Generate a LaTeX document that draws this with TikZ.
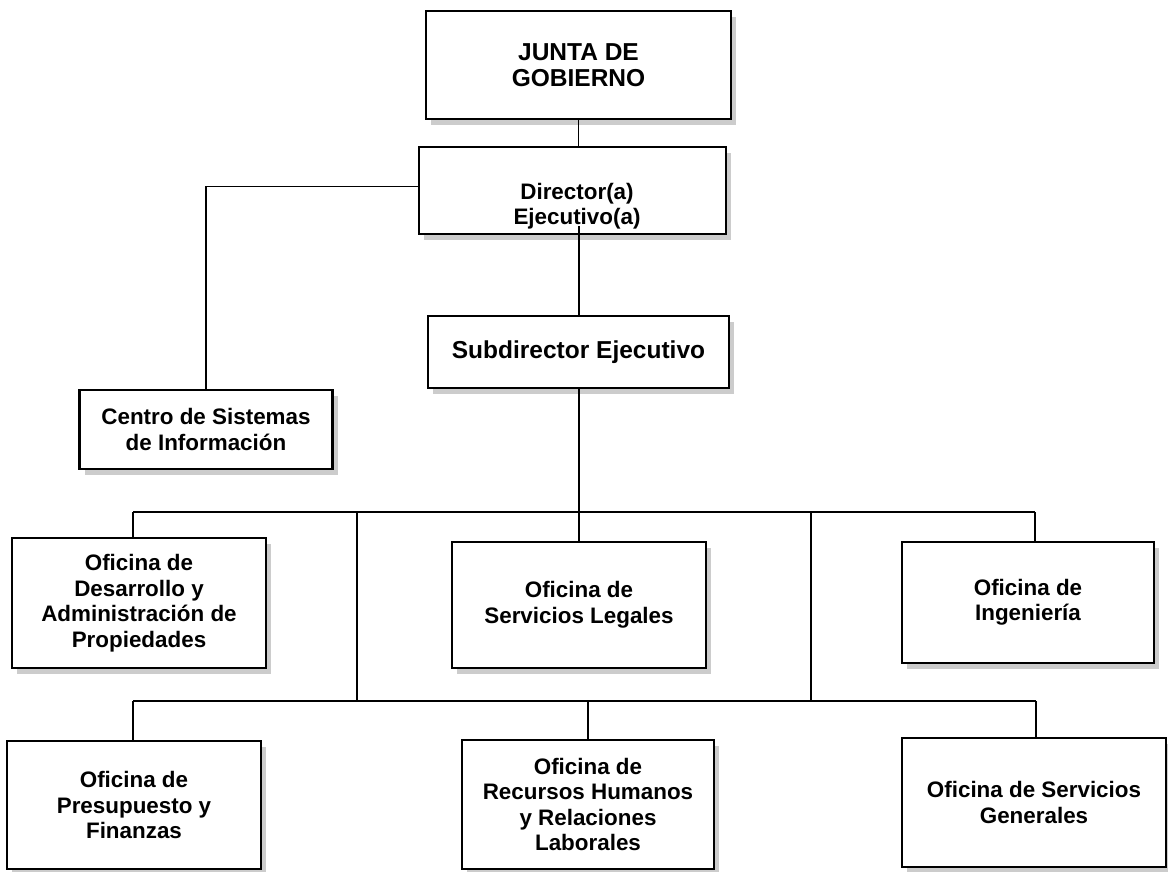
\documentclass[tikz,border=0pt]{standalone}
\usepackage{fontspec}
\setmainfont{Liberation Sans}
\usetikzlibrary{shadows}
\begin{document}
\begin{tikzpicture}[x=1pt,y=-1pt,
  box/.style={draw, line width=2.1pt, fill=white, align=center, inner sep=0pt,
    font=\bfseries\fontsize{22.4}{25.5}\selectfont,
    general shadow={fill=gray!40, shadow xshift=5pt, shadow yshift=-6pt}},
  big/.style={font=\bfseries\fontsize{24.5}{26.5}\selectfont},
  txt/.style={align=center, inner sep=0pt, font=\bfseries\fontsize{22.4}{25.5}\selectfont},
  conn/.style={line width=1.6pt}]
\useasboundingbox (0,0) rectangle (1168,872);

\node[box,big,minimum width=305pt,minimum height=108pt] (junta) at (578.5,65) {JUNTA DE\\GOBIERNO};
\node[box,minimum width=307pt,minimum height=87pt] (dir) at (572.5,190.5) {};
\node[txt] (dirtxt) at (577,206) {Director(a)\\Ejecutivo(a)};
\node[box,big,minimum width=301pt,minimum height=72pt] (sub) at (578.5,352) {Subdirector Ejecutivo};
\node[box,minimum width=253pt,minimum height=79pt] (centro) at (206,429.5) {Centro de Sistemas\\de Información};
\node[box,minimum width=254pt,minimum height=130pt] (desa) at (139,603) {Oficina de\\Desarrollo y\\Administración de\\Propiedades};
\node[box,minimum width=254pt,minimum height=126pt] (legal) at (579,605) {Oficina de\\Servicios Legales};
\node[box,minimum width=252pt,minimum height=121pt] (inge) at (1028,602.5) {Oficina de\\Ingeniería};
\node[box,minimum width=254pt,minimum height=128pt] (presu) at (134,805) {Oficina de\\Presupuesto y\\Finanzas};
\node[box,minimum width=252pt,minimum height=129pt] (rrhh) at (588,804.5) {Oficina de\\Recursos Humanos\\y Relaciones\\Laborales};
\node[box,minimum width=264pt,minimum height=129pt] (sgen) at (1034,802.5) {Oficina de Servicios\\Generales};

\coordinate (u1) at (133,512);
\coordinate (u2) at (1035,512);
\coordinate (l1) at (133,701);
\coordinate (l2) at (1036,701);
\coordinate (s1) at (357,512);
\coordinate (s2) at (811,512);
\coordinate (dstart) at (579,226);

\draw[conn] (junta.south) -- (junta.south |- dir.north);
\draw[conn] ([yshift=4pt]dir.west) -| (centro.north);
\draw[conn] (dstart) -- (dstart |- sub.north);
\draw[conn] (sub.south -| dstart) -- (legal.north -| dstart);
\draw[conn] (u1) -- (u2);
\draw[conn] (u1) -- (u1 |- desa.north);
\draw[conn] (u2) -- (u2 |- inge.north);
\draw[conn] (s1) -- (s1 |- l1);
\draw[conn] (s2) -- (s2 |- l1);
\draw[conn] (l1) -- (l2);
\draw[conn] (l1) -- (l1 |- presu.north);
\draw[conn] (rrhh.north |- l1) -- (rrhh.north);
\draw[conn] (l2) -- (l2 |- sgen.north);
\end{tikzpicture}
\end{document}
